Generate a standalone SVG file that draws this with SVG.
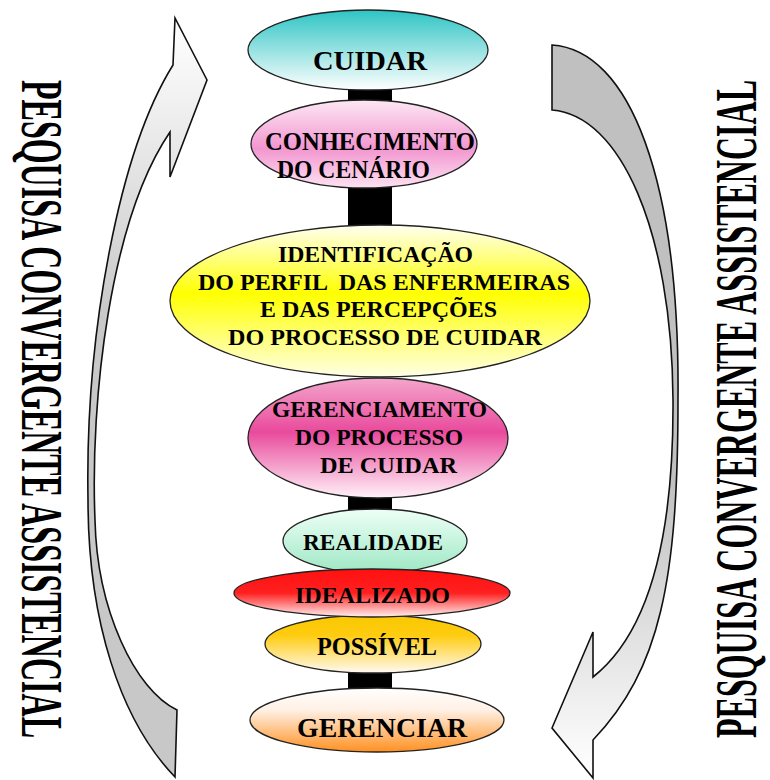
<svg xmlns="http://www.w3.org/2000/svg" width="770" height="780" viewBox="0 0 770 780">
<defs>
<style>
.lbl{font-family:"Liberation Serif","Times New Roman",serif;font-weight:bold;fill:#000;white-space:pre}
.side{font-family:"Liberation Serif","Times New Roman",serif;font-size:60px;font-weight:bold;fill:#000}
.node{stroke:#222;stroke-width:1.3}
.arrow{stroke:#111;stroke-width:1.6;stroke-linejoin:miter}
.bar{fill:#000}
</style>
<linearGradient id="gCuidar" x1="0" y1="0" x2="0" y2="1"><stop offset="0" stop-color="#2ec4c4"/><stop offset="1" stop-color="#ffffff"/></linearGradient>
<linearGradient id="gConh" x1="0" y1="0" x2="0" y2="1"><stop offset="0" stop-color="#fde8f4"/><stop offset="0.55" stop-color="#f296d0"/><stop offset="1" stop-color="#fde2f1"/></linearGradient>
<linearGradient id="gIdent" x1="0" y1="0" x2="0" y2="1"><stop offset="0" stop-color="#fffff2"/><stop offset="0.45" stop-color="#ffff00"/><stop offset="1" stop-color="#ffffe6"/></linearGradient>
<linearGradient id="gGerenc" x1="0" y1="0" x2="0" y2="1"><stop offset="0" stop-color="#f4a6cc"/><stop offset="0.45" stop-color="#e94a9c"/><stop offset="1" stop-color="#fff2f8"/></linearGradient>
<linearGradient id="gReal" x1="0" y1="0" x2="0" y2="1"><stop offset="0" stop-color="#eefff7"/><stop offset="1" stop-color="#9ee8c4"/></linearGradient>
<linearGradient id="gIdeal" x1="0" y1="0" x2="0" y2="1"><stop offset="0" stop-color="#ff1010"/><stop offset="0.5" stop-color="#ff2020"/><stop offset="1" stop-color="#fff0f0"/></linearGradient>
<linearGradient id="gPoss" x1="0" y1="0" x2="0" y2="1"><stop offset="0" stop-color="#f8c800"/><stop offset="0.35" stop-color="#ffcc10"/><stop offset="1" stop-color="#fffaf2"/></linearGradient>
<linearGradient id="gGerenciar" x1="0" y1="0" x2="0" y2="1"><stop offset="0" stop-color="#ffffff"/><stop offset="0.35" stop-color="#fff0e4"/><stop offset="1" stop-color="#ff9020"/></linearGradient>
<linearGradient id="gArrL" gradientUnits="userSpaceOnUse" x1="0" y1="40" x2="0" y2="320"><stop offset="0" stop-color="#fcfcfc"/><stop offset="1" stop-color="#c8c8c8"/></linearGradient>
<linearGradient id="gArrR" gradientUnits="userSpaceOnUse" x1="0" y1="480" x2="0" y2="760"><stop offset="0" stop-color="#c0c0c0"/><stop offset="1" stop-color="#fcfcfc"/></linearGradient>
</defs>
<rect width="770" height="780" fill="#ffffff"/>

<g id="arrow-left">
<path class="arrow" fill="url(#gArrL)" d="M175,777 C120,720 88,620 88,500 C85,330 120,150 173,65 L175,18 L207,80 L170,177 L170,132 C110,220 90,400 95,520 C97,610 135,690 177,710 Z"/>
</g>
<g id="arrow-right">
<path class="arrow" fill="url(#gArrR)" d="M552,45 C630,50 680,180 678,400 C678,580 660,670 593,740 L593,778 L552,728 L593,632 L593,677 C640,640 674,560 673,400 C672,230 620,115 552,110 Z"/>
</g>

<g id="side-left">
<text class="side" transform="translate(22,80) rotate(90) scale(0.5,1)" textLength="1316" lengthAdjust="spacingAndGlyphs">PESQUISA CONVERGENTE ASSISTENCIAL</text>
</g>
<g id="side-right">
<text class="side" transform="translate(756,738) rotate(-90) scale(0.5,1)" textLength="1316" lengthAdjust="spacingAndGlyphs" font-size="59">PESQUISA CONVERGENTE ASSISTENCIAL</text>
</g>

<g id="connectors">
<rect class="bar" x="348" y="70" width="44" height="50"/>
<rect class="bar" x="348" y="170" width="44" height="80"/>
<rect class="bar" x="348" y="480" width="44" height="50"/>
<rect class="bar" x="348" y="660" width="44" height="40"/>
</g>

<g id="node-cuidar">
<ellipse class="node" cx="368" cy="50" rx="120" ry="40" fill="url(#gCuidar)"/>
<text class="lbl" x="313" y="70" font-size="28" textLength="114" lengthAdjust="spacingAndGlyphs">CUIDAR</text>
</g>
<g id="node-conhecimento">
<ellipse class="node" cx="364" cy="144" rx="113" ry="44" fill="url(#gConh)"/>
<text class="lbl" x="265" y="150" font-size="26" textLength="210" lengthAdjust="spacingAndGlyphs">CONHECIMENTO</text>
<text class="lbl" x="277" y="178" font-size="26" textLength="153" lengthAdjust="spacingAndGlyphs">DO CENÁRIO</text>
</g>
<g id="node-identificacao">
<ellipse class="node" cx="380" cy="301" rx="210" ry="76" fill="url(#gIdent)"/>
<text class="lbl" x="278" y="262" font-size="24" textLength="195" lengthAdjust="spacingAndGlyphs">IDENTIFICAÇÃO</text>
<text class="lbl" x="198" y="290" font-size="24" textLength="372" lengthAdjust="spacingAndGlyphs" xml:space="preserve">DO PERFIL  DAS ENFERMEIRAS</text>
<text class="lbl" x="260" y="317" font-size="24" textLength="237" lengthAdjust="spacingAndGlyphs">E DAS PERCEPÇÕES</text>
<text class="lbl" x="228" y="345" font-size="24" textLength="314" lengthAdjust="spacingAndGlyphs">DO PROCESSO DE CUIDAR</text>
</g>
<g id="node-gerenciamento">
<ellipse class="node" cx="378" cy="438" rx="130" ry="60" fill="url(#gGerenc)"/>
<text class="lbl" x="272" y="417" font-size="24" textLength="215" lengthAdjust="spacingAndGlyphs">GERENCIAMENTO</text>
<text class="lbl" x="295" y="445" font-size="24" textLength="168" lengthAdjust="spacingAndGlyphs">DO PROCESSO</text>
<text class="lbl" x="320" y="473" font-size="24" textLength="137" lengthAdjust="spacingAndGlyphs">DE CUIDAR</text>
</g>
<g id="node-realidade">
<ellipse class="node" cx="375" cy="541" rx="92" ry="32" fill="url(#gReal)"/>
<text class="lbl" x="303" y="550" font-size="23" textLength="140" lengthAdjust="spacingAndGlyphs">REALIDADE</text>
</g>
<g id="node-possivel">
<ellipse class="node" cx="373" cy="644" rx="108" ry="29" fill="url(#gPoss)"/>
<text class="lbl" x="317" y="655" font-size="25" textLength="120" lengthAdjust="spacingAndGlyphs">POSSÍVEL</text>
</g>
<g id="node-idealizado">
<ellipse class="node" cx="372" cy="593" rx="138" ry="24" fill="url(#gIdeal)"/>
<text class="lbl" x="295" y="603" font-size="23" textLength="155" lengthAdjust="spacingAndGlyphs">IDEALIZADO</text>
</g>
<g id="node-gerenciar">
<ellipse class="node" cx="377" cy="720" rx="127" ry="32" fill="url(#gGerenciar)"/>
<text class="lbl" x="297" y="737" font-size="28" textLength="170" lengthAdjust="spacingAndGlyphs">GERENCIAR</text>
</g>
</svg>
